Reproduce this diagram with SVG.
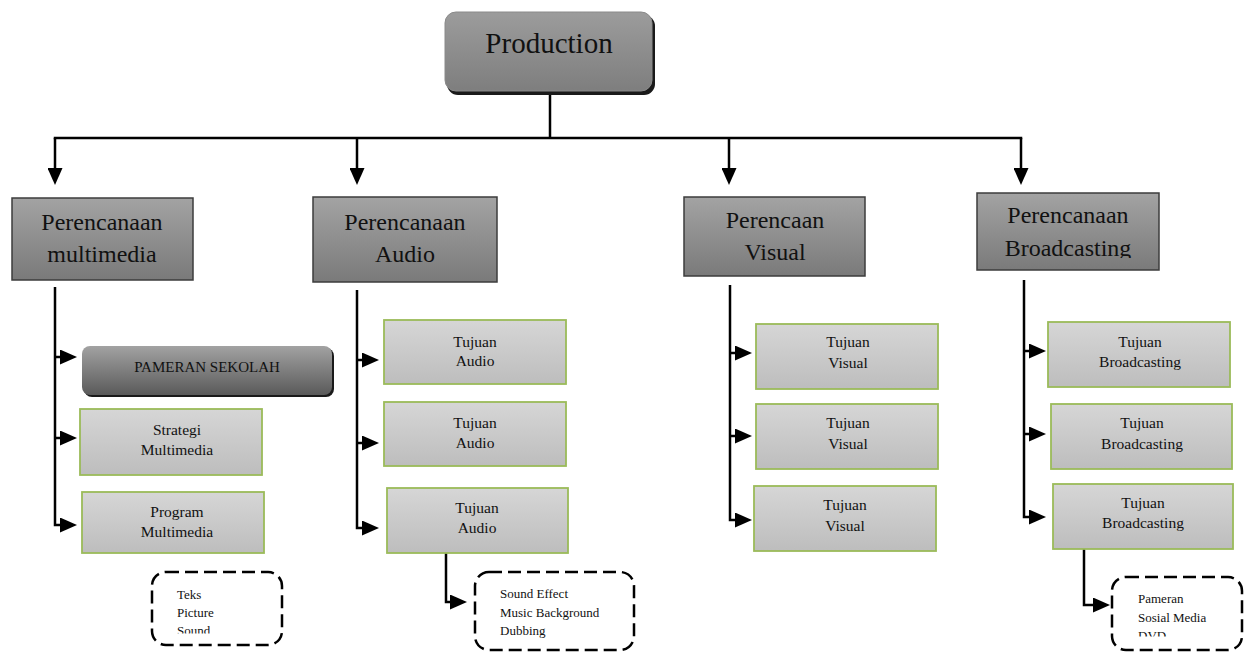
<svg xmlns="http://www.w3.org/2000/svg" width="1248" height="652" viewBox="0 0 1248 652">
<style>
  text { font-family: "Liberation Serif", "Times New Roman", serif; fill: #111; text-anchor: middle; }
  .big { font-size: 24px; }
  .mid { font-size: 15.5px; }
  .sm { font-size: 13px; text-anchor: start; }
  .cat { fill: url(#gCat); stroke: #3c3c3c; stroke-width: 1.5; }
  .sub { fill: url(#gSub); stroke: #9bbb59; stroke-width: 1.8; }
  .dash { fill: none; stroke: #000; stroke-width: 2.5; stroke-dasharray: 13 6; }
  .con { fill: none; stroke: #000; stroke-width: 2.5; }
  .arr { marker-end: url(#ah); }
</style>
<defs>
  <linearGradient id="gCat" x1="0" y1="0" x2="0" y2="1">
    <stop offset="0" stop-color="#a3a3a3"/>
    <stop offset="1" stop-color="#7a7a7a"/>
  </linearGradient>
  <linearGradient id="gProd" x1="0" y1="0" x2="0" y2="1">
    <stop offset="0" stop-color="#9c9c9c"/>
    <stop offset="1" stop-color="#7e7e7e"/>
  </linearGradient>
  <linearGradient id="gPam" x1="0" y1="0" x2="0" y2="1">
    <stop offset="0" stop-color="#a2a2a2"/>
    <stop offset="1" stop-color="#5a5a5a"/>
  </linearGradient>
  <linearGradient id="gSub" x1="0" y1="0" x2="0" y2="1">
    <stop offset="0" stop-color="#d6d6d6"/>
    <stop offset="1" stop-color="#bdbdbd"/>
  </linearGradient>
  <marker id="ah" viewBox="0 0 17 15" refX="7" refY="7.5" markerWidth="17" markerHeight="15" markerUnits="userSpaceOnUse" orient="auto">
    <path d="M0,0 L17,7.5 L0,15 z" fill="#000"/>
  </marker>
  <clipPath id="cTeks"><rect x="150" y="570" width="135" height="63.5"/></clipPath>
  <clipPath id="cDvd"><rect x="1110" y="575" width="135" height="61.5"/></clipPath>
  <clipPath id="cBro"><rect x="977" y="193" width="182" height="65"/></clipPath>
</defs>

<g id="connectors">
  <path class="con" d="M550,92 V138"/>
  <path class="con" d="M55,138 H1021" stroke-linecap="square"/>
  <path class="con arr" d="M55,138 V175"/>
  <path class="con arr" d="M357,138 V175"/>
  <path class="con arr" d="M729,138 V175"/>
  <path class="con arr" d="M1021,138 V175"/>

  <path class="con arr" d="M55,287 V525 H67"/>
  <path class="con arr" d="M55,357 H67"/>
  <path class="con arr" d="M55,438 H67"/>

  <path class="con arr" d="M357,290 V528 H369"/>
  <path class="con arr" d="M357,360 H369"/>
  <path class="con arr" d="M357,443 H369"/>
  <path class="con arr" d="M446,553 V602 H457"/>

  <path class="con arr" d="M730,285 V520 H742"/>
  <path class="con arr" d="M730,353 H742"/>
  <path class="con arr" d="M730,436 H742"/>

  <path class="con arr" d="M1024,280 V517 H1036"/>
  <path class="con arr" d="M1024,351 H1036"/>
  <path class="con arr" d="M1024,434 H1036"/>
  <path class="con arr" d="M1084,549 V605 H1100"/>
</g>

<g id="production">
  <rect x="447" y="15" width="208" height="80" rx="11" fill="#1a1a1a"/>
  <rect x="445" y="12" width="207" height="79" rx="11" fill="url(#gProd)" stroke="#8a8a8a" stroke-width="1"/>
  <text x="549" y="53" style="font-size:29px">Production</text>
</g>

<g id="cat-multimedia">
  <rect class="cat" x="12" y="198" width="181" height="82"/>
  <text class="big" x="102" y="230">Perencanaan</text>
  <text class="big" x="102" y="262">multimedia</text>
</g>
<g id="cat-audio">
  <rect class="cat" x="313" y="197" width="184" height="85"/>
  <text class="big" x="405" y="230">Perencanaan</text>
  <text class="big" x="405" y="262">Audio</text>
</g>
<g id="cat-visual">
  <rect class="cat" x="684" y="197" width="181" height="79"/>
  <text class="big" x="775" y="228">Perencaan</text>
  <text class="big" x="775" y="260">Visual</text>
</g>
<g id="cat-broadcasting">
  <rect class="cat" x="977" y="193" width="182" height="77"/>
  <text class="big" x="1068" y="223">Perencanaan</text>
  <g clip-path="url(#cBro)"><text class="big" x="1068" y="256">Broadcasting</text></g>
</g>

<g id="pameran-sekolah">
  <rect x="84" y="348" width="250" height="49" rx="8" fill="#1a1a1a"/>
  <rect x="82" y="346" width="250" height="49" rx="8" fill="url(#gPam)"/>
  <text x="207" y="372" style="font-size:15px">PAMERAN SEKOLAH</text>
</g>
<g id="strategi-multimedia">
  <rect class="sub" x="80" y="409" width="182" height="66"/>
  <text class="mid" x="177" y="435">Strategi</text>
  <text class="mid" x="177" y="455">Multimedia</text>
</g>
<g id="program-multimedia">
  <rect class="sub" x="82" y="492" width="182" height="61"/>
  <text class="mid" x="177" y="517">Program</text>
  <text class="mid" x="177" y="537">Multimedia</text>
</g>
<g id="list-teks">
  <rect class="dash" x="152" y="572" width="130" height="73" rx="14"/>
  <g clip-path="url(#cTeks)">
    <text class="sm" x="177" y="599">Teks</text>
    <text class="sm" x="177" y="617">Picture</text>
    <text class="sm" x="177" y="635">Sound</text>
  </g>
</g>

<g id="tujuan-audio-1">
  <rect class="sub" x="384" y="320" width="182" height="64"/>
  <text class="mid" x="475" y="347">Tujuan</text>
  <text class="mid" x="475" y="366">Audio</text>
</g>
<g id="tujuan-audio-2">
  <rect class="sub" x="384" y="402" width="182" height="64"/>
  <text class="mid" x="475" y="428">Tujuan</text>
  <text class="mid" x="475" y="448">Audio</text>
</g>
<g id="tujuan-audio-3">
  <rect class="sub" x="387" y="488" width="181" height="65"/>
  <text class="mid" x="477" y="513">Tujuan</text>
  <text class="mid" x="477" y="533">Audio</text>
</g>
<g id="list-sound">
  <rect class="dash" x="475" y="572" width="159" height="78" rx="14"/>
  <text class="sm" x="500" y="598">Sound Effect</text>
  <text class="sm" x="500" y="617">Music Background</text>
  <text class="sm" x="500" y="635">Dubbing</text>
</g>

<g id="tujuan-visual-1">
  <rect class="sub" x="756" y="324" width="182" height="65"/>
  <text class="mid" x="848" y="347">Tujuan</text>
  <text class="mid" x="848" y="368">Visual</text>
</g>
<g id="tujuan-visual-2">
  <rect class="sub" x="756" y="404" width="182" height="65"/>
  <text class="mid" x="848" y="428">Tujuan</text>
  <text class="mid" x="848" y="449">Visual</text>
</g>
<g id="tujuan-visual-3">
  <rect class="sub" x="754" y="486" width="182" height="65"/>
  <text class="mid" x="845" y="510">Tujuan</text>
  <text class="mid" x="845" y="531">Visual</text>
</g>

<g id="tujuan-broadcasting-1">
  <rect class="sub" x="1048" y="322" width="182" height="65"/>
  <text class="mid" x="1140" y="347">Tujuan</text>
  <text class="mid" x="1140" y="367">Broadcasting</text>
</g>
<g id="tujuan-broadcasting-2">
  <rect class="sub" x="1051" y="404" width="181" height="65"/>
  <text class="mid" x="1142" y="428">Tujuan</text>
  <text class="mid" x="1142" y="449">Broadcasting</text>
</g>
<g id="tujuan-broadcasting-3">
  <rect class="sub" x="1053" y="484" width="180" height="65"/>
  <text class="mid" x="1143" y="508">Tujuan</text>
  <text class="mid" x="1143" y="528">Broadcasting</text>
</g>
<g id="list-pameran">
  <rect class="dash" x="1112" y="577" width="130" height="73" rx="14"/>
  <g clip-path="url(#cDvd)">
    <text class="sm" x="1138" y="603">Pameran</text>
    <text class="sm" x="1138" y="622">Sosial Media</text>
    <text class="sm" x="1138" y="640">DVD</text>
  </g>
</g>
</svg>
